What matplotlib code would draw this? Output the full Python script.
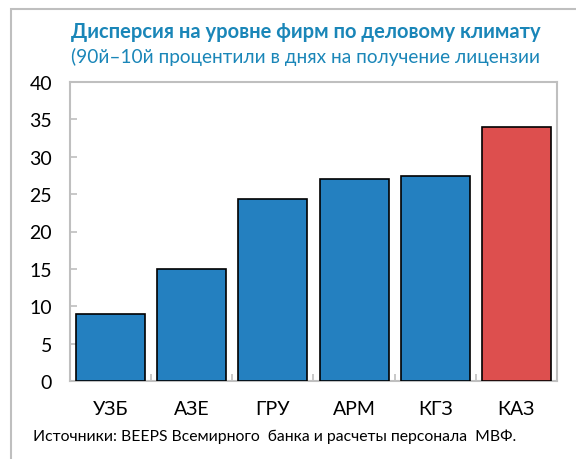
import matplotlib.pyplot as plt
from matplotlib.patches import Rectangle

countries = ['УЗБ', 'АЗЕ', 'ГРУ', 'АРМ', 'КГЗ', 'КАЗ']
values = [8.9, 15.0, 24.4, 27.0, 27.4, 34.0]
bar_colors = ['#2480c0', '#2480c0', '#2480c0', '#2480c0', '#2480c0', '#dd4f4e']
y_ticks = [0, 5, 10, 15, 20, 25, 30, 35, 40]

title = 'Дисперсия на уровне фирм по деловому климату'
subtitle = '(90й–10й процентили в днях на получение лицензии'
source = 'Источники: BEEPS Всемирного  банка и расчеты персонала  МВФ.'

plt.rcParams['font.family'] = ['Lato', 'DejaVu Sans']

fig = plt.figure(figsize=(5.76, 4.6), dpi=100)
ax = fig.add_axes([70 / 576, 1 - 382 / 460, 487 / 576, 299 / 460])

x = list(range(len(countries)))
ax.bar(x, values, width=0.85, color=bar_colors, edgecolor='black', linewidth=1.2, zorder=3)

ax.set_xlim(-0.5, len(countries) - 0.5)
ax.set_ylim(0, 40)
ax.set_yticks(y_ticks)
ax.set_xticks(x)
ax.set_xticklabels(countries)
ax.set_xticks([i + 0.5 for i in x[:-1]], minor=True)

for s in ax.spines.values():
    s.set_color('#bfbfbf')
    s.set_linewidth(1.5)

ax.tick_params(axis='y', direction='in', color='#bfbfbf', length=5, width=1.2,
               labelsize=14, pad=13)
ax.tick_params(axis='x', which='major', length=0, labelsize=14, pad=14)
ax.tick_params(axis='x', which='minor', direction='in', color='#bfbfbf', length=5, width=1.2)

fig.text(71 / 576, 1 - 32 / 460, title, color='#1a86b8', fontsize=14.5,
         fontweight='bold', va='center', ha='left')
fig.text(71 / 576, 1 - 57 / 460, subtitle, color='#1a86b8', fontsize=13.7,
         va='center', ha='left')
fig.text(33 / 576, 1 - 437 / 460, source, color='black', fontsize=11.3,
         va='center', ha='left')

# gray frame (partially visible, as in the original)
fig.patches.append(Rectangle((11 / 576, -0.1), 1.0, 1 - 10 / 460 + 0.1,
                             transform=fig.transFigure, fill=False,
                             edgecolor='#bfbfbf', linewidth=1.5))

fig.savefig('out.png', dpi=100)
